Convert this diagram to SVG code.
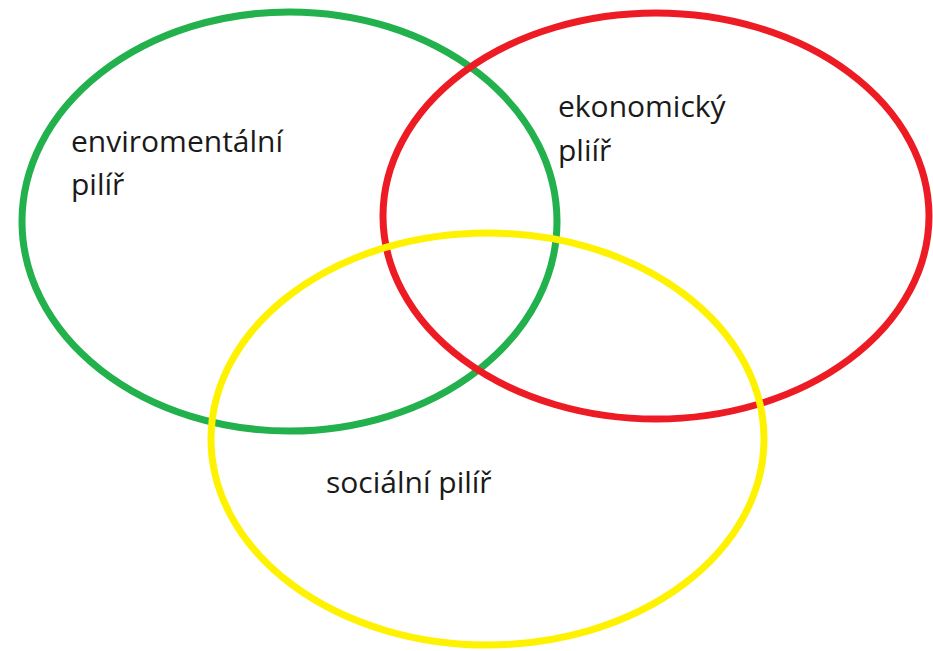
<svg xmlns="http://www.w3.org/2000/svg" width="933" height="651" viewBox="0 0 933 651">
<style>
.ring{fill:none;stroke-width:7}
.lbl{font-family:"Open Sans","Noto Sans","DejaVu Sans",sans-serif;font-size:30px;fill:#1a1a1a}
</style>
<rect width="933" height="651" fill="#fff"/>
<g id="enviro">
<ellipse class="ring" cx="289.5" cy="221.5" rx="267.5" ry="209.5" stroke="#22B14C"/>
<text class="lbl" x="71" y="152">enviromentální</text>
<text class="lbl" x="71" y="195">pilíř</text>
</g>
<g id="ekonom">
<ellipse class="ring" cx="656" cy="216" rx="273" ry="203" stroke="#ED1C24"/>
<text class="lbl" x="558" y="117">ekonomický</text>
<text class="lbl" x="558" y="161">pliíř</text>
</g>
<g id="social">
<ellipse class="ring" cx="487.5" cy="439" rx="276.5" ry="206" stroke="#FFF200"/>
<text class="lbl" x="326" y="493">sociální pilíř</text>
</g>
<g id="connectors"/>
</svg>
